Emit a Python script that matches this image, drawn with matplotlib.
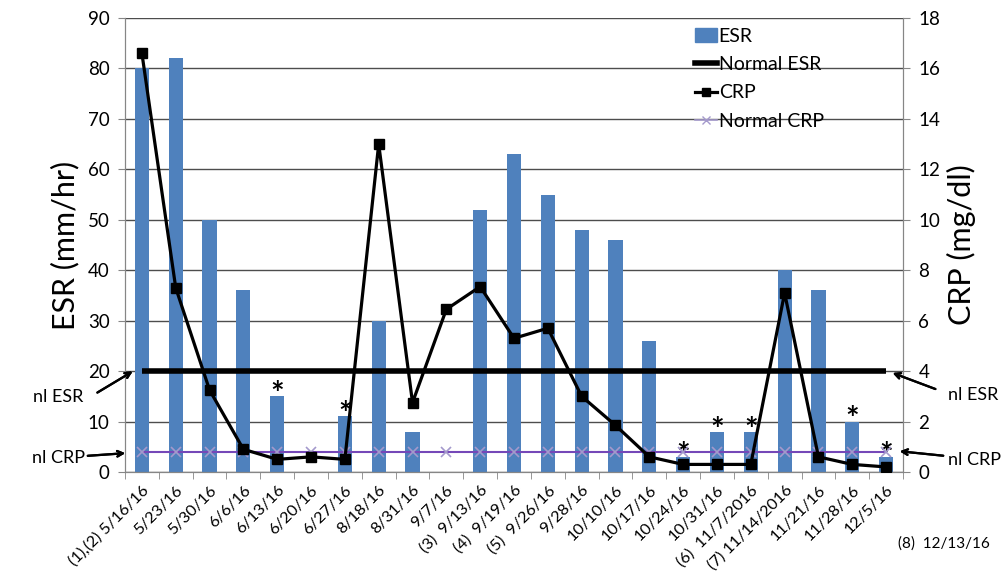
# -*- coding: utf-8 -*-
"""
ESR and CRP values over the treatment course, bars for ESR and
a line for CRP on a second axis, with the normal levels drawn across.
"""

import numpy as np
import matplotlib
matplotlib.use("Agg")
import matplotlib.pyplot as plt
from matplotlib.lines import Line2D
from matplotlib.patches import Patch

# dates of the visits (with the event numbers in front)
dates = ['(1),(2) 5/16/16', '5/23/16', '5/30/16', '6/6/16', '6/13/16',
         '6/20/16', '6/27/16', '8/18/16', '8/31/16', '9/7/16',
         '(3)  9/13/16', '(4)  9/19/16', '(5)  9/26/16', '9/28/16',
         '10/10/16', '10/17/16', '10/24/16', '10/31/16', '(6)  11/7/2016',
         '(7) 11/14/2016', '11/21/16', '11/28/16', '12/5/16']

# ESR in mm/hr (0 where there was no measure)
esr = [80, 82, 50, 36, 15, 0, 11, 30, 8, 0, 52, 63, 55, 48, 46, 26,
       3, 8, 8, 40, 36, 10, 3]

# CRP in mg/dl
crp = [16.6, 7.3, 3.25, 0.9, 0.5, 0.6, 0.5, 13.0, 2.75, 6.45, 7.35, 5.3,
       5.7, 3.0, 1.85, 0.6, 0.3, 0.3, 0.3, 7.1, 0.6, 0.3, 0.2]

# normal levels
normal_esr = 20
normal_crp = 0.8

# visits marked with a star
star_dates = ['6/13/16', '6/27/16', '10/24/16', '10/31/16', '(6)  11/7/2016',
              '11/28/16', '12/5/16']

FONT = ['Lato', 'DejaVu Sans']
plt.rcParams['font.family'] = FONT


def plot_esr_crp():
    '''
    Draws the bar chart of ESR and the CRP line on the right axis
    and saves it to out.png
    '''
    n = len(dates)
    x = np.arange(n)

    fig = plt.figure(figsize=(10.04, 5.73), dpi=100)
    ax = fig.add_axes([0.1245, 0.1763, 0.7749, 0.7923])
    ax2 = ax.twinx()

    # ESR bars
    ax.bar(x, esr, width=0.42, color='#4F81BD', zorder=2)
    # normal ESR line
    ax.plot([x[0], x[-1]], [normal_esr, normal_esr], color='black',
            linewidth=4, zorder=3, solid_capstyle='butt')

    # CRP line and normal CRP
    ax2.plot(x, [normal_crp] * n, color='#7548b8', linewidth=1.5,
             marker='x', markersize=7, markeredgecolor='#a499cc',
             markeredgewidth=1.2, zorder=3)
    ax2.plot(x, crp, color='black', linewidth=2.3, marker='s',
             markersize=7.5, zorder=4)

    # stars above some bars
    for d in star_dates:
        i = dates.index(d)
        ax.annotate('*', (i, esr[i]), xytext=(0, -10), textcoords='offset points',
                    ha='center', va='bottom', fontsize=23, fontweight='bold')

    # axes limits and ticks
    ax.set_xlim(-0.5, n - 0.5)
    ax.set_ylim(0, 90)
    ax2.set_ylim(0, 18)
    ax.set_yticks(np.arange(0, 91, 10))
    ax2.set_yticks(np.arange(0, 19, 2))
    ax.set_xticks(x)
    ax.set_xticklabels(dates, rotation=45, ha='right', rotation_mode='anchor')
    ax.set_xticks(np.arange(n + 1) - 0.5, minor=True)
    ax.tick_params(axis='x', which='major', length=0, pad=8, labelsize=11.8)
    ax.tick_params(axis='x', which='minor', length=5, color='#868686')
    ax.tick_params(axis='y', length=5, color='#868686', labelsize=13.5, pad=6)
    ax2.tick_params(axis='y', length=5, color='#868686', labelsize=13.5, pad=6)

    # gridlines
    ax.grid(axis='y', color='#4d4d4d', linewidth=1, zorder=0)
    ax.set_axisbelow(True)

    for a in (ax, ax2):
        a.spines['top'].set_visible(False)
        for s in ('left', 'right', 'bottom'):
            a.spines[s].set_color('#868686')

    ax.set_ylabel('ESR (mm/hr)', fontsize=22, labelpad=6)
    ax2.set_ylabel('CRP (mg/dl)', fontsize=22, labelpad=5)

    # legend
    handles = [Patch(color='#4F81BD'),
               Line2D([], [], color='black', linewidth=4),
               Line2D([], [], color='black', linewidth=2.3, marker='s', markersize=6),
               Line2D([], [], color='#a499cc', linewidth=1.2, marker='x', markersize=6)]
    labels = ['ESR', 'Normal ESR', 'CRP', 'Normal CRP']
    fig.legend(handles, labels, loc='upper left', bbox_to_anchor=(0.679, 0.975),
               frameon=False, fontsize=14, handlelength=1.1, handletextpad=0.1,
               labelspacing=0.58, borderpad=0.2)

    # arrows to the normal lines
    arrow = dict(arrowstyle='->', color='black', linewidth=1.6)
    fig.text(0.033, 1 - 397 / 573, 'nl ESR', fontsize=13, va='center')
    fig.text(0.032, 1 - 458 / 573, 'nl CRP', fontsize=13, va='center')
    fig.text(0.944, 1 - 395 / 573, 'nl ESR', fontsize=13, va='center')
    fig.text(0.944, 1 - 460 / 573, 'nl CRP', fontsize=13, va='center')
    fig.add_artist(plt.annotate('', xy=(135 / 1004, 1 - 370 / 573),
                                xytext=(95 / 1004, 1 - 394 / 573),
                                xycoords='figure fraction', arrowprops=arrow))
    fig.add_artist(plt.annotate('', xy=(128 / 1004, 1 - 453 / 573),
                                xytext=(85 / 1004, 1 - 456 / 573),
                                xycoords='figure fraction', arrowprops=arrow))
    fig.add_artist(plt.annotate('', xy=(890 / 1004, 1 - 372 / 573),
                                xytext=(938 / 1004, 1 - 390 / 573),
                                xycoords='figure fraction', arrowprops=arrow))
    fig.add_artist(plt.annotate('', xy=(897 / 1004, 1 - 451 / 573),
                                xytext=(946 / 1004, 1 - 456 / 573),
                                xycoords='figure fraction', arrowprops=arrow))

    fig.text(0.894, 1 - 544 / 573, '(8)  12/13/16', fontsize=11, va='center')

    fig.savefig('out.png', dpi=100)


if __name__ == "__main__":
    plot_esr_crp()
